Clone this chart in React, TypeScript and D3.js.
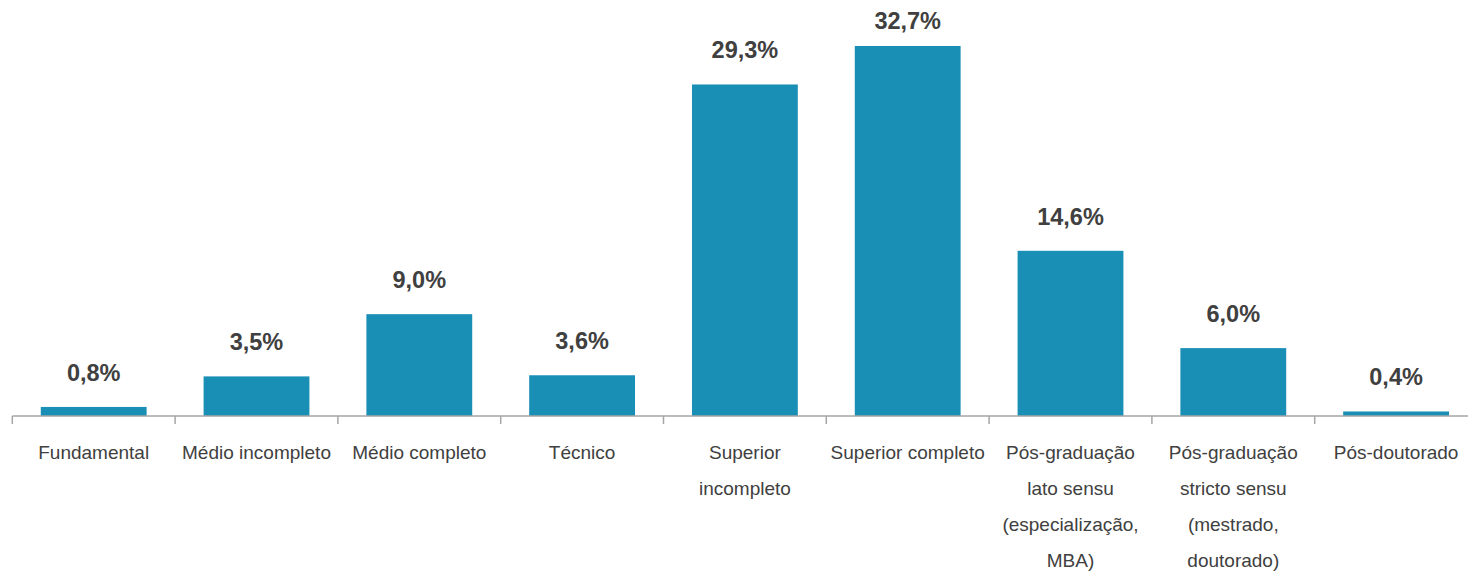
import React from "react";
import * as d3 from "d3";

const categories = [
  "Fundamental",
  "Médio incompleto",
  "Médio completo",
  "Técnico",
  "Superior incompleto",
  "Superior completo",
  "Pós-graduação lato sensu (especialização, MBA)",
  "Pós-graduação stricto sensu (mestrado, doutorado)",
  "Pós-doutorado",
];
const categoryLines = [
  ["Fundamental"],
  ["Médio incompleto"],
  ["Médio completo"],
  ["Técnico"],
  ["Superior", "incompleto"],
  ["Superior completo"],
  ["Pós-graduação", "lato sensu", "(especialização,", "MBA)"],
  ["Pós-graduação", "stricto sensu", "(mestrado,", "doutorado)"],
  ["Pós-doutorado"],
];
const values = [0.8, 3.5, 9.0, 3.6, 29.3, 32.7, 14.6, 6.0, 0.4];
const valueLabels = ["0,8%", "3,5%", "9,0%", "3,6%", "29,3%", "32,7%", "14,6%", "6,0%", "0,4%"];

export default function App() {
  const W = 1468, H = 573;
  const left = 12.3, step = 162.8, base = 416;
  const right = left + step * categories.length;
  const x = d3.scaleBand<string>().domain(categories).range([left, right]).paddingInner(0.35).paddingOuter(0.175);
  const y = d3.scaleLinear().domain([0, 32.7]).range([base, 46]);
  const font = "'Liberation Sans', Arial, sans-serif";
  return (
    <svg width={W} height={H} style={{ position: "absolute", left: 0, top: 0 }} fontFamily={font}>
      {categories.map((c, i) => (
        <rect key={c} x={x(c)} y={y(values[i])} width={x.bandwidth()} height={base - y(values[i])} fill="#1a8fb5" />
      ))}
      <line x1={left} x2={W} y1={base} y2={base} stroke="#a6a6a6" strokeWidth={1.5} />
      {d3.range(categories.length + 1).map((i) => (
        <line key={i} x1={left + i * step} x2={left + i * step} y1={base} y2={base + 8} stroke="#a6a6a6" strokeWidth={1.5} />
      ))}
      {categories.map((c, i) => (
        <text key={"v" + c} x={x(c)! + x.bandwidth() / 2} y={Math.max(y(values[i]) - 26, 29)} textAnchor="middle" fontSize={23.5} fontWeight="bold" fill="#404040">
          {valueLabels[i]}
        </text>
      ))}
      {categories.map((c, i) =>
        categoryLines[i].map((ln, j) => (
          <text key={c + j} x={x(c)! + x.bandwidth() / 2} y={459 + j * 36} textAnchor="middle" fontSize={19} fill="#404040">
            {ln}
          </text>
        ))
      )}
    </svg>
  );
}
